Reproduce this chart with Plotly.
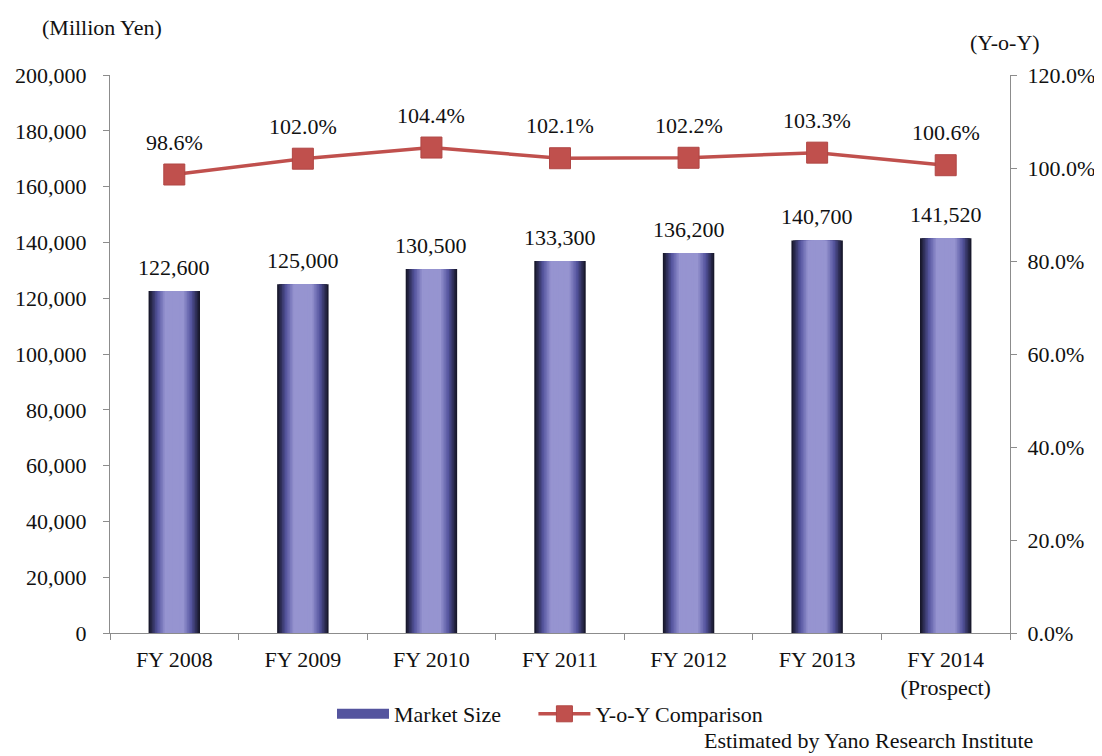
import plotly.graph_objects as go

categories = ["FY 2008", "FY 2009", "FY 2010", "FY 2011", "FY 2012", "FY 2013", "FY 2014<br>(Prospect)"]
market_size = [122600, 125000, 130500, 133300, 136200, 140700, 141520]
yoy = [98.6, 102.0, 104.4, 102.1, 102.2, 103.3, 100.6]

FONT = "Liberation Serif, Times New Roman, serif"
TXT = "#111111"
FS = 22

# page body has an 8px margin: compensate so the plot area sits at x 110-1010, y 75-633
OFF = 8
PW, PH = 1102 - OFF, 756 - OFF
L, T = 110 - OFF, 75 - OFF
R = OFF + PW - 1010
B = OFF + PH - 633
PLOT_W, PLOT_H = 900, 558

fig = go.Figure()

# gradient bars by nested overlay layers
W = 0.4
N = 16
dark = (24, 24, 44)
mid = (84, 84, 158)
light = (150, 148, 208)


def lerp(a, b, t):
    return tuple(int(round(a[k] + (b[k] - a[k]) * t)) for k in range(3))


for i in range(N):
    f = 1 - i / N
    t = min(1.0, (1 - f) / 0.62)
    if t < 0.5:
        c = lerp(dark, mid, t / 0.5)
    else:
        c = lerp(mid, light, (t - 0.5) / 0.5)
    fig.add_trace(go.Bar(
        x=categories, y=market_size, width=W * f,
        marker=dict(color="rgb(%d,%d,%d)" % c, line=dict(width=0)),
        name="Market Size", showlegend=False,
        hoverinfo="skip" if i else "x+y",
    ))

# legend entry for the bars (legend-only)
fig.add_trace(go.Scatter(
    x=[None], y=[None], mode="lines", name="Market Size" + "\u00a0" * 5,
    line=dict(color="rgb(%d,%d,%d)" % mid, width=12),
))

fig.add_trace(go.Scatter(
    x=categories, y=yoy, yaxis="y2", mode="lines+markers",
    line=dict(color="#c0504d", width=3.5),
    marker=dict(symbol="square", size=21, color="#c0504d", line=dict(color="#b04644", width=1)),
    name="Y-o-Y Comparison",
))

annotations = []
for c, v in zip(categories, market_size):
    annotations.append(dict(x=c, y=v, xref="x", yref="y", text=f"{v:,}", showarrow=False,
                            yanchor="bottom", yshift=9, font=dict(family=FONT, size=FS, color=TXT)))
for c, v in zip(categories, yoy):
    annotations.append(dict(x=c, y=v, xref="x", yref="y2", text=f"{v:.1f}%", showarrow=False,
                            yanchor="bottom", yshift=18, font=dict(family=FONT, size=FS, color=TXT)))
annotations += [
    dict(xref="paper", yref="paper", x=(40 - 110) / PLOT_W, y=1.0 + 48 / PLOT_H,
         xanchor="left", yanchor="middle", text="(Million Yen)", showarrow=False,
         font=dict(family=FONT, size=FS, color=TXT)),
    dict(xref="paper", yref="paper", x=(968 - 110) / PLOT_W, y=1.0 + 33 / PLOT_H,
         xanchor="left", yanchor="middle", text="(Y-o-Y)", showarrow=False,
         font=dict(family=FONT, size=FS, color=TXT)),
    dict(xref="paper", yref="paper", x=(1035 - 110) / PLOT_W, y=-(740 - 633) / PLOT_H,
         xanchor="right", yanchor="middle", text="Estimated by Yano Research Institute",
         showarrow=False, font=dict(family=FONT, size=FS, color=TXT)),
]

axis_common = dict(showline=True, linecolor="#8c8c8c", linewidth=1.2, ticks="outside",
                   tickcolor="#8c8c8c", ticklen=6, showgrid=False, zeroline=False,
                   tickfont=dict(family=FONT, size=FS, color=TXT))

fig.update_layout(
    width=PW, height=PH,
    margin=dict(l=L, r=R, t=T, b=B, autoexpand=False),
    paper_bgcolor="white", plot_bgcolor="white",
    barmode="overlay",
    font=dict(family=FONT, size=FS, color=TXT),
    xaxis=dict(**axis_common, tickson="boundaries", type="category", ticklabelstandoff=6),
    yaxis=dict(**axis_common, range=[0, 200000], dtick=20000, tickformat=",d", ticklabelstandoff=12),
    yaxis2=dict(**axis_common, overlaying="y", side="right", range=[0, 120], dtick=20,
                tickformat=".1f", ticksuffix="%", ticklabelstandoff=6),
    legend=dict(orientation="h", x=(550 - 110) / PLOT_W, xanchor="center",
                y=-(714 - 633) / PLOT_H, yanchor="middle",
                font=dict(family=FONT, size=FS, color=TXT), itemwidth=52, bgcolor="rgba(0,0,0,0)",
                tracegroupgap=0),
    annotations=annotations,
    showlegend=True,
)

fig.write_html("out.html")
